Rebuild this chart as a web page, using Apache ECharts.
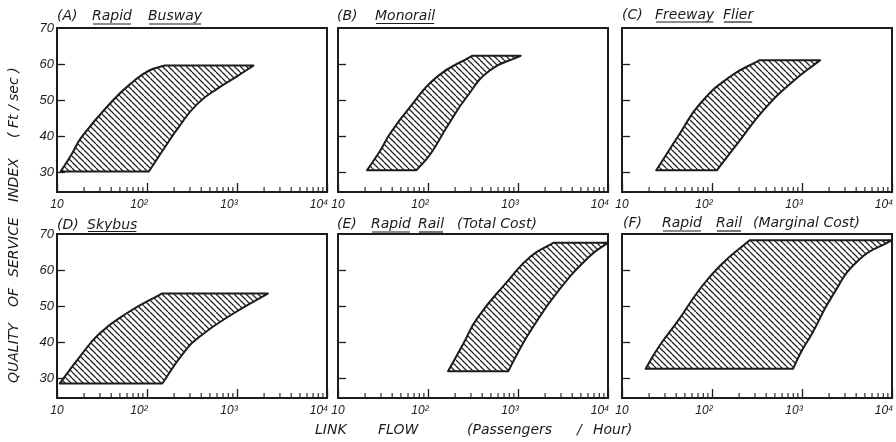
<!DOCTYPE html>
<html>
<head>
<meta charset="utf-8">
<script src="https://cdn.jsdelivr.net/npm/echarts@6/dist/echarts.min.js"></script>
<style>
  html, body { margin: 0; padding: 0; background: #fff; }
  #chart { width: 896px; height: 442px; }
</style>
</head>
<body>
<div id="chart"></div>
<script>
// ---- data (link flow in passengers/hour, quality index in ft/sec) ----
// "upper" runs from the lower-left corner up the left edge and along the top plateau,
// "lower" runs from the lower-left corner along the bottom and up the right edge.
const rapidBuswayUpper = [[11, 30.3], [14.5, 35], [19, 40], [42, 50], [69, 55], [107, 58.3], [158, 59.6], [1520, 59.6]];
const rapidBuswayLower = [[11, 30.3], [105, 30.3], [158, 37], [224, 42.5], [363, 49], [631, 53.5], [1000, 56.6], [1520, 59.6]];

const monorailUpper = [[21, 30.6], [29.5, 36.1], [38, 40.8], [63, 48.1], [126, 56.5], [309, 62.3], [1070, 62.3]];
const monorailLower = [[21, 30.6], [74, 30.6], [107, 35.2], [162, 42.6], [269, 50.9], [490, 58.3], [1070, 62.3]];

const freewayFlierUpper = [[24, 30.6], [44, 40.8], [74, 49.1], [158, 56.5], [340, 61.1], [1590, 61.1]];
const freewayFlierLower = [[24, 30.6], [113, 30.6], [204, 38.9], [372, 47.2], [741, 54.6], [1590, 61.1]];

const skybusUpper = [[10.7, 28.6], [17.8, 35.9], [29.5, 42.4], [59, 48], [146, 53.5], [2200, 53.5]];
const skybusLower = [[10.7, 28.6], [148, 28.6], [251, 36.9], [380, 41.5], [912, 48], [2200, 53.5]];

const railTotalUpper = [[167, 32], [245, 39.5], [355, 46.8], [760, 56.8], [1380, 63.8], [2500, 67.6], [10000, 67.6]];
const railTotalLower = [[167, 32], [780, 32], [980, 36.8], [1380, 43.2], [2750, 54], [6300, 63.9], [10000, 67.6]];

const railMarginalUpper = [[18.3, 32.7], [26, 39], [42, 46], [72, 54.5], [126, 61.5], [262, 68.3], [10000, 68.3]];
const railMarginalLower = [[18.3, 32.7], [795, 32.7], [1000, 37.8], [1290, 42.4], [2140, 52.6], [4270, 62.8], [10000, 68.3]];

const panelTitles = [
  [['(A)', 0], ['Rapid', 1], ['Busway', 1]],
  [['(B)', 0], ['Monorail', 1]],
  [['(C)', 0], ['Freeway', 1], ['Flier', 1]],
  [['(D)', 0], ['Skybus', 1]],
  [['(E)', 0], ['Rapid', 1], ['Rail', 1], ['(Total Cost)', 0]],
  [['(F)', 0], ['Rapid', 1], ['Rail', 1], ['(Marginal Cost)', 0]]
];

const xMinorTicks = [20, 30, 40, 50, 60, 70, 80, 90, 200, 300, 400, 500, 600, 700, 800, 900,
  2000, 3000, 4000, 5000, 6000, 7000, 8000, 9000];
const yTicks = [30, 40, 50, 60];
const yLabels = [30, 40, 50, 60, 70];

const yTitleParts = ['QUALITY', 'OF', 'SERVICE', 'INDEX', '( Ft / sec )'];
const xTitleParts = ['LINK', 'FLOW', '(Passengers', '/', 'Hour)'];

// ---- layout ----
const INK = '#1c1c1c';
const Y_MIN = 24.6, Y_MAX = 70;
const colLeft = [57, 338, 622];
const rowTop = [28, 234];
const panelW = 270, panelH = 164;
const titleX = [[57, 92, 148], [337, 375], [622, 655, 723], [57, 87], [337, 371, 418, 457], [623, 662, 716, 753]];
const titleY = [16, 16, 15, 225, 224, 223];
const underY = [24, 23.5, 22, 231.5, 232, 231];
const yTitleY = [383, 307, 277, 202, 138];
const xTitleX = [315, 378, 467, 577, 593];

const shapes = [
  [rapidBuswayUpper, rapidBuswayLower],
  [monorailUpper, monorailLower],
  [freewayFlierUpper, freewayFlierLower],
  [skybusUpper, skybusLower],
  [railTotalUpper, railTotalLower],
  [railMarginalUpper, railMarginalLower]
];

function makeHatch(s) {
  const c = document.createElement('canvas');
  c.width = s; c.height = s;
  const g = c.getContext('2d');
  g.strokeStyle = '#222';
  g.lineWidth = 1.25;
  g.beginPath();
  [-1, 0, 1].forEach(k => { g.moveTo(k * s, 0); g.lineTo(k * s + s, s); });
  g.stroke();
  return c;
}
const hatch = { image: makeHatch(6), repeat: 'repeat' };

// outline order with corners doubled so the smoothing keeps them sharp
function outline(upper, lower) {
  const n = upper.length, m = lower.length;
  const pts = [upper[0], upper[0]];
  for (let i = 1; i <= n - 3; i++) pts.push(upper[i]);
  pts.push(upper[n - 2], upper[n - 2], upper[n - 1], upper[n - 1]);
  for (let j = m - 2; j >= 2; j--) pts.push(lower[j]);
  pts.push(lower[1], lower[1]);
  return pts;
}

const supers = { 1: '', 2: '²', 3: '³', 4: '⁴' };
const labelFont = '"Liberation Sans", Arial, sans-serif';
const textFont = 'italic 14px "DejaVu Sans", sans-serif';

const grids = [], xAxes = [], yAxes = [], series = [];
for (let i = 0; i < 6; i++) {
  grids.push({
    left: colLeft[i % 3], top: rowTop[Math.floor(i / 3)], width: panelW, height: panelH,
    show: true, borderColor: INK, borderWidth: 2, backgroundColor: 'transparent',
    outerBoundsMode: 'none'
  });
  xAxes.push({
    gridIndex: i, type: 'log', logBase: 10, min: 10, max: 10000,
    axisLine: { show: false }, splitLine: { show: false }, minorTick: { show: false },
    axisTick: { inside: true, length: 9, lineStyle: { color: INK, width: 1.3 } },
    axisLabel: {
      margin: 7,
      formatter: v => {
        const e = Math.round(Math.log10(v));
        return e === 1 ? '{n|10}' : '{n|10' + supers[e] + '}{g|}';
      },
      rich: {
        n: { fontFamily: labelFont, fontStyle: 'italic', fontSize: 12, color: INK },
        g: { width: 16 }
      }
    }
  });
  yAxes.push({
    gridIndex: i, type: 'value', min: Y_MIN, max: Y_MAX,
    axisLine: { show: false }, splitLine: { show: false },
    axisTick: { inside: true, length: 8, customValues: yTicks, lineStyle: { color: INK, width: 1.3 } },
    axisLabel: {
      show: i % 3 === 0, customValues: yLabels, margin: 3,
      fontFamily: labelFont, fontStyle: 'italic', fontSize: 13, color: INK
    }
  });
  const [up, lo] = shapes[i];
  series.push({
    type: 'custom', xAxisIndex: i, yAxisIndex: i, clip: false, silent: true,
    data: [up[0]],
    renderItem: (params, api) => ({
      type: 'polygon',
      shape: { points: outline(up, lo).map(d => api.coord(d)), smooth: 0.5 },
      style: { fill: hatch, stroke: INK, lineWidth: 2, lineJoin: 'round' }
    })
  });
  // minor log ticks along the bottom axis
  series.push({
    type: 'custom', xAxisIndex: i, yAxisIndex: i, clip: false, silent: true,
    data: xMinorTicks.map(v => [v, Y_MIN]),
    renderItem: (params, api) => {
      const p = api.coord([api.value(0), api.value(1)]);
      return { type: 'line', shape: { x1: p[0], y1: p[1], x2: p[0], y2: p[1] - 5 },
        style: { stroke: INK, lineWidth: 1.1 } };
    }
  });
}

// titles and axis names as text
const measure = document.createElement('canvas').getContext('2d');
measure.font = textFont;
const graphics = [];
panelTitles.forEach((parts, i) => {
  parts.forEach(([t, u], k) => {
    const x = titleX[i][k];
    graphics.push({ type: 'text', x: x, y: titleY[i],
      style: { text: t, font: textFont, fill: INK, verticalAlign: 'middle' } });
    if (u) {
      graphics.push({ type: 'line',
        shape: { x1: x + 1, y1: underY[i], x2: x + measure.measureText(t).width - 1, y2: underY[i] },
        style: { stroke: INK, lineWidth: 1.2 } });
    }
  });
});
yTitleParts.forEach((t, k) => {
  graphics.push({ type: 'text', x: 14, y: yTitleY[k], rotation: Math.PI / 2,
    style: { text: t, font: textFont, fill: INK, align: 'left', verticalAlign: 'middle' } });
});
xTitleParts.forEach((t, k) => {
  graphics.push({ type: 'text', x: xTitleX[k], y: 430,
    style: { text: t, font: textFont, fill: INK, verticalAlign: 'middle' } });
});

const chart = echarts.init(document.getElementById('chart'));
chart.setOption({
  backgroundColor: '#fff',
  animation: false,
  grid: grids,
  xAxis: xAxes,
  yAxis: yAxes,
  series: series,
  graphic: graphics
});
</script>
</body>
</html>
